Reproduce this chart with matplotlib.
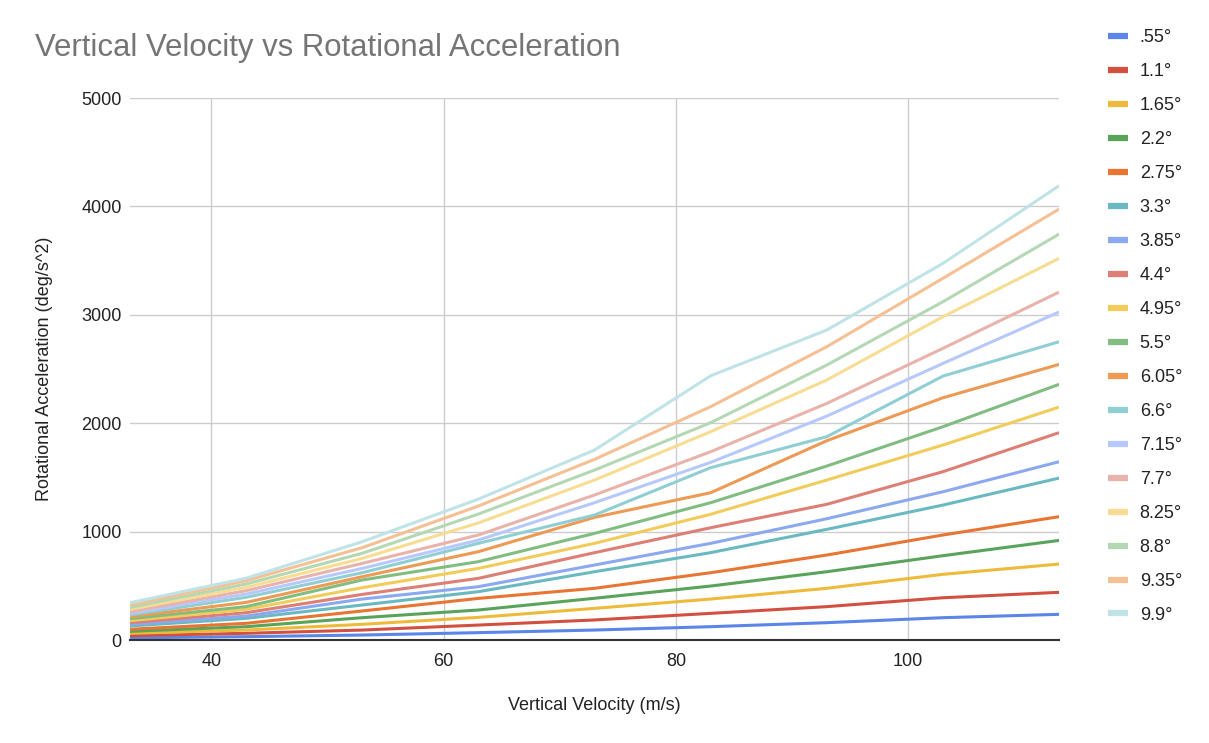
import matplotlib
matplotlib.use("Agg")
import matplotlib.pyplot as plt

plt.rcParams["font.family"] = ["Liberation Sans", "DejaVu Sans"]

# vertical velocity (m/s)
velocity = [33, 43, 53, 63, 73, 83, 93, 103, 113]

angles = [".55°", "1.1°", "1.65°", "2.2°", "2.75°", "3.3°", "3.85°", "4.4°", "4.95°",
          "5.5°", "6.05°", "6.6°", "7.15°", "7.7°", "8.25°", "8.8°", "9.35°", "9.9°"]

# rotational acceleration (deg/s^2), one list per angle
acc_055 = [20, 31, 46, 68, 92, 123, 160, 206, 237]
acc_110 = [40, 62, 92, 138, 185, 246, 308, 390, 440]
acc_165 = [62, 92, 145, 209, 292, 378, 477, 606, 701]
acc_220 = [80, 123, 206, 277, 385, 498, 630, 778, 919]
acc_275 = [99, 154, 268, 384, 477, 621, 784, 969, 1138]
acc_330 = [129, 200, 323, 446, 630, 806, 1021, 1245, 1494]
acc_385 = [145, 221, 378, 492, 692, 892, 1119, 1368, 1645]
acc_440 = [160, 252, 421, 569, 806, 1036, 1252, 1553, 1913]
acc_495 = [178, 283, 483, 661, 892, 1160, 1476, 1799, 2149]
acc_550 = [197, 308, 554, 723, 984, 1267, 1605, 1968, 2359]
acc_605 = [215, 347, 584, 815, 1132, 1359, 1839, 2235, 2543]
acc_660 = [231, 394, 621, 892, 1153, 1590, 1876, 2435, 2752]
acc_715 = [246, 424, 661, 922, 1267, 1639, 2066, 2552, 3026]
acc_770 = [261, 455, 707, 969, 1338, 1737, 2183, 2691, 3210]
acc_825 = [283, 486, 753, 1080, 1476, 1922, 2399, 2983, 3521]
acc_880 = [301, 517, 800, 1162, 1568, 2005, 2537, 3121, 3745]
acc_935 = [323, 547, 852, 1236, 1667, 2153, 2706, 3337, 3976]
acc_990 = [344, 570, 907, 1300, 1753, 2438, 2860, 3475, 4191]

series = [acc_055, acc_110, acc_165, acc_220, acc_275, acc_330, acc_385, acc_440, acc_495,
          acc_550, acc_605, acc_660, acc_715, acc_770, acc_825, acc_880, acc_935, acc_990]

colors = ["#5b85e6", "#d2503f", "#edba3c", "#5aa35a", "#e87532", "#6ab9c1",
          "#8aa9f0", "#dd7f74", "#f2cc5a", "#81bd81", "#ed9a55", "#8fcfd4",
          "#b6c9fa", "#e9b3ac", "#f7dd94", "#b4d8b4", "#f4c094", "#bfe3e6"]

fig, ax = plt.subplots(figsize=(12.09, 7.43), dpi=100)
fig.subplots_adjust(left=0.1075, right=0.876, top=0.868, bottom=0.1386)

for ys, lab, col in zip(series, angles, colors):
    ax.plot(velocity, ys, color=col, lw=2.2, label=lab, solid_capstyle="butt")

ax.set_xlim(33, 113)
ax.set_ylim(0, 5000)
ax.set_xticks([40, 60, 80, 100])
ax.set_yticks([0, 1000, 2000, 3000, 4000, 5000])
ax.grid(color="#cccccc", lw=1.0)
ax.set_axisbelow(True)
ax.tick_params(length=0, labelsize=13, colors="#222222")
ax.tick_params(axis="x", pad=9)
ax.tick_params(axis="y", pad=6)
for s in ("top", "right", "left"):
    ax.spines[s].set_visible(False)
ax.spines["bottom"].set_color("#333333")
ax.spines["bottom"].set_linewidth(1.5)

ax.set_xlabel("Vertical Velocity (m/s)", fontsize=13, color="#222222", labelpad=20)
ax.set_ylabel("Rotational Acceleration (deg/s^2)", fontsize=13, color="#222222", labelpad=20)

fig.text(0.029, 0.935, "Vertical Velocity vs Rotational Acceleration",
         fontsize=22.4, color="#757575", va="center", ha="left")

leg = ax.legend(loc="upper left", bbox_to_anchor=(0.9165, 0.9606), bbox_transform=fig.transFigure,
                frameon=False, fontsize=13, handlelength=1.1, handletextpad=0.65,
                labelspacing=0.94, borderpad=0, borderaxespad=0)
for t in leg.get_texts():
    t.set_color("#222222")
for h in leg.get_lines():
    h.set_linewidth(4.5)

fig.savefig("out.png", dpi=100, facecolor="white")
